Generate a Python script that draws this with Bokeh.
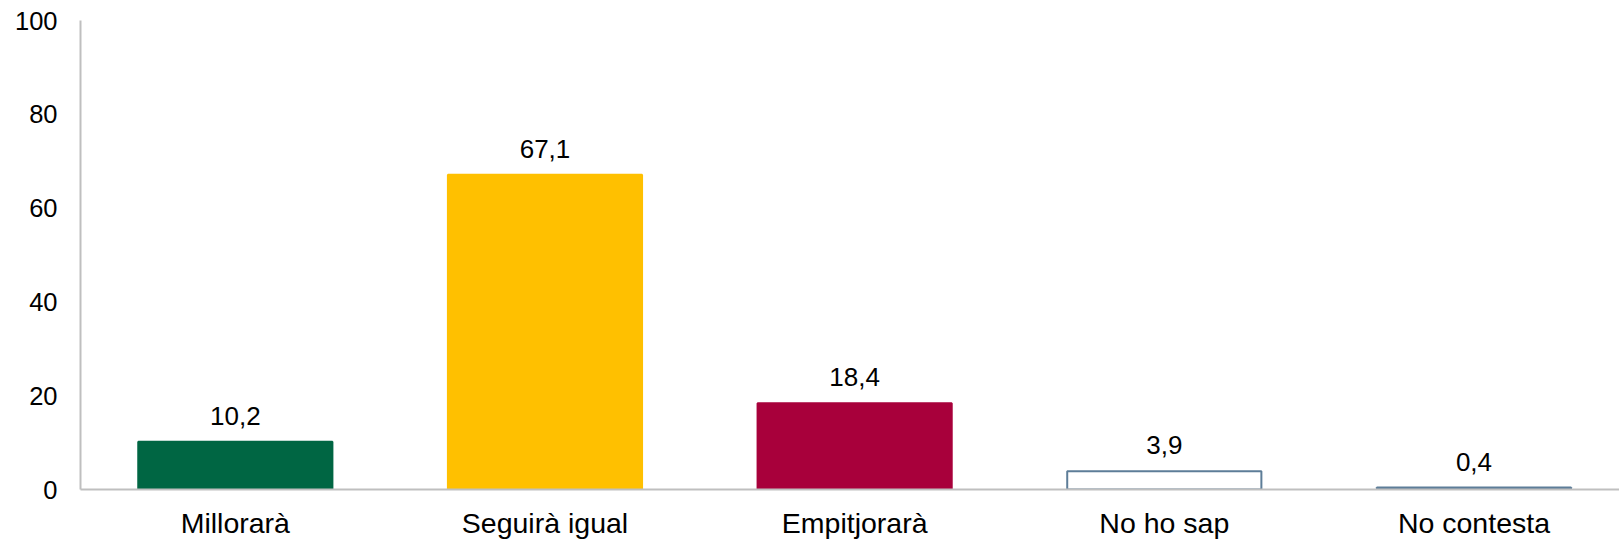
from bokeh.plotting import figure
from bokeh.models import Range1d, FixedTicker, ColumnDataSource, LabelSet
from bokeh.core.properties import value
from bokeh.embed import file_html
from bokeh.resources import INLINE

categories = ["Millorarà", "Seguirà igual", "Empitjorarà", "No ho sap", "No contesta"]
values = [10.2, 67.1, 18.4, 3.9, 0.4]
value_labels = ["10,2", "67,1", "18,4", "3,9", "0,4"]
fill_colors = ["#006643", "#FFC000", "#A8003B", "#FFFFFF", "#FFFFFF"]
line_colors = ["#006643", "#FFC000", "#A8003B", "#5D7D98", "#5D7D98"]
y_ticks = [0, 20, 40, 60, 80, 100]

FONT = "Liberation Sans"

xs = [i + 0.5 for i in range(len(categories))]
src = ColumnDataSource(dict(x=xs, top=values, fill=fill_colors, line=line_colors,
                            lab=value_labels))

p = figure(width=1619, height=543, output_backend="svg", toolbar_location=None,
           x_range=Range1d(0, 4.97), y_range=Range1d(0, 100),
           min_border_left=80, min_border_right=0, min_border_top=20, min_border_bottom=54)
p.outline_line_color = None
p.grid.visible = False
p.background_fill_color = "white"

p.vbar(x="x", top="top", bottom=0, width=0.627, fill_color="fill", line_color="line",
       line_width=2, source=src)

labels = LabelSet(x="x", y="top", text="lab", source=src, text_align="center",
                  text_baseline="alphabetic", y_offset=17, text_font=value(FONT),
                  text_font_size="26px", text_color="#000000")
p.add_layout(labels)

p.xaxis.ticker = FixedTicker(ticks=xs)
p.xaxis.major_label_overrides = {x: c for x, c in zip(xs, categories)}
p.yaxis.ticker = FixedTicker(ticks=y_ticks)

for ax in (p.xaxis, p.yaxis):
    ax.axis_line_color = "#BFBFBF"
    ax.axis_line_width = 2
    ax.major_tick_line_color = None
    ax.minor_tick_line_color = None
    ax.major_tick_in = 0
    ax.major_tick_out = 0
    ax.major_label_text_font = FONT
    ax.major_label_text_color = "#000000"
p.xaxis.major_label_text_font_size = "28.5px"
p.yaxis.major_label_text_font_size = "25.5px"
p.xaxis.major_label_standoff = 17
p.yaxis.major_label_standoff = 23

open("out.html", "w").write(file_html(p, INLINE))
